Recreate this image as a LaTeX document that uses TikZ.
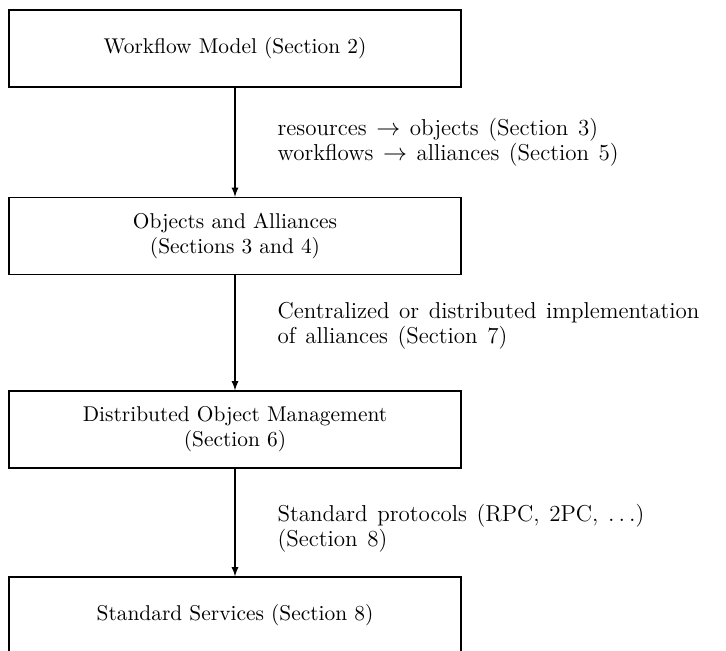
\documentclass[tikz,border=0pt]{standalone}
\usepackage{fontspec}
\usetikzlibrary{arrows}
\newcommand\steplabelfont{\fontsize{11.5}{12.5}\selectfont\spaceskip=4.8pt plus 1pt\relax}
\tikzset{part box/.style={
    draw,line width=.65pt,minimum width=226pt,minimum height=38.5pt,align=center,
    font=\fontsize{10.7}{12.5}\selectfont}}
\tikzset{step label/.style={anchor=west,align=left,inner sep=0pt,font=\steplabelfont}}
\begin{document}
\begin{tikzpicture}[x=1pt,y=1pt]
  \useasboundingbox (0,0) rectangle (363,-325.5);
  \node[part box] at (117.5,-24.25) (model) {Workflow Model (Section 2)};
  \node[part box] at (117.5,-118) (alliances) {Objects and Alliances\\(Sections 3 and 4)};
  \node[part box] at (117.5,-214.75) (dom) {Distributed Object Management\\(Section 6)};
  \node[part box] at (117.5,-307.75) (services) {Standard Services (Section 8)};
  % connectors
  \draw[-latex,line width=.6pt] (model) -- (alliances)
    node[step label,midway,xshift=21pt] {resources $\rightarrow$ objects (Section 3)\\
      workflows $\rightarrow$ alliances (Section 5)};
  \draw[-latex,line width=.6pt] (alliances) -- (dom)
    node[step label,midway,xshift=21pt,yshift=3.5pt] {Centralized or distributed implementation\\
      of alliances (Section 7)};
  \draw[-latex,line width=.6pt] (dom) -- (services)
    node[step label,midway,xshift=21pt,yshift=-3pt] {Standard protocols (RPC, 2PC, $\ldots$)\\
      (Section 8)};
\end{tikzpicture}
\end{document}
